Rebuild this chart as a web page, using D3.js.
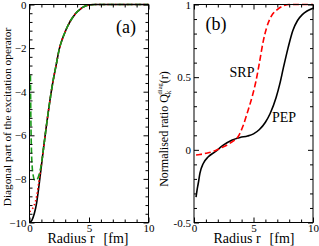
<!DOCTYPE html>
<html><head><meta charset="utf-8">
<script src="https://cdn.jsdelivr.net/npm/d3@7"></script>
<style>body{margin:0;background:#fff}svg{display:block}text{font-family:"Liberation Serif","Times New Roman",serif;fill:#000}</style>
</head><body>
<svg id="c" width="319" height="246"></svg>
<script>
// ---- Panel (a) data ----
const aXTicks = [0, 5, 10];
const aYTicks = [0, -2, -4, -6, -8, -10];
const aBlackR = [0,0.2,0.4,0.6,0.8,1.0,1.2,1.4,1.6,1.8,2.0,2.25,2.5,2.75,3.0,3.25,3.5,3.75,4.0,4.25,4.5,4.75,5.0,5.5,6,7,8,9,10];
const aBlackV = [-10,-9.9,-9.6,-9.1,-8.3,-7.4,-6.5,-5.65,-4.85,-4.1,-3.45,-2.75,-2.05,-1.6,-1.25,-0.95,-0.7,-0.5,-0.34,-0.22,-0.12,-0.06,-0.02,0,0,0,0,0,0];
const aRedR = [0,0.2,0.4,0.6,0.8,1.0,1.2,1.4,1.6,1.8,2.0,2.25,2.5,2.75,3.0,3.25,3.5,3.75,4.0,4.25,4.5,4.75,5.0,5.5,6,7,8,9,10];
const aRedV = [-9.5,-9.4,-9.2,-8.8,-8.1,-7.35,-6.5,-5.65,-4.85,-4.1,-3.45,-2.75,-2.05,-1.6,-1.25,-0.95,-0.7,-0.5,-0.34,-0.22,-0.12,-0.06,-0.02,0,0,0,0,0,0];
const aGreenR = [0.08,0.1,0.13,0.17,0.22,0.3,0.45,0.6,0.75,0.9,1.0,1.1,1.2,1.4,1.6,1.8,2.0,2.25,2.5,2.75,3.0,3.25,3.5,3.75,4.0,4.25,4.5,4.75,5.0,5.5,6,7,8,9,10];
const aGreenV = [-3.25,-4.5,-5.8,-6.8,-7.4,-7.8,-8.05,-8.05,-7.9,-7.6,-7.3,-6.95,-6.5,-5.65,-4.85,-4.1,-3.45,-2.75,-2.05,-1.6,-1.25,-0.95,-0.7,-0.5,-0.34,-0.22,-0.12,-0.06,-0.02,0,0,0,0,0,0];

// ---- Panel (b) data ----
const bXTicks = [0, 5, 10];
const bYTicks = [1, 0.5, 0, -0.5];
const bYTickLabels = ["1", "0.5", "0", "-0.5"];
const pepR = [0.17,0.25,0.36,0.5,0.78,1.2,1.76,2.46,3.17,3.87,4.5,5.0,5.5,6.0,6.4,6.9,7.2,7.5,7.9,8.3,8.7,9.1,9.5,10];
const pepV = [-0.325,-0.28,-0.23,-0.16,-0.094,-0.048,-0.014,0.032,0.066,0.085,0.095,0.11,0.14,0.19,0.25,0.36,0.45,0.56,0.70,0.82,0.89,0.93,0.955,0.975];
const srpR = [0.17,0.5,1.0,1.6,2.2,2.75,3.2,3.7,4.1,4.5,4.9,5.2,5.5,5.8,6.1,6.5,7.0,7.5,8,9,10];
const srpV = [-0.036,-0.032,-0.024,-0.012,0.01,0.032,0.055,0.09,0.16,0.26,0.37,0.47,0.6,0.74,0.84,0.92,0.965,0.99,1.0,1.0,1.0];

const svg = d3.select("#c");

function frame(g, x, y, xMajor, xMinorStep, yMajor, yMinorStep, xDom, yDom, yFmt) {
  const [x0, x1] = x.range(), [y0, y1] = y.range(); // y0 bottom
  const xMinor = d3.range(xDom[0], xDom[1] + 1e-9, xMinorStep).filter(v => !xMajor.some(m => Math.abs(m - v) < 1e-9));
  const yMinor = d3.range(yDom[0], yDom[1] + 1e-9, yMinorStep).filter(v => !yMajor.some(m => Math.abs(m - v) < 1e-9));
  const mk = (axis, tr) => g.append("g").attr("transform", tr).call(axis)
      .call(s => s.select(".domain").remove())
      .call(s => s.selectAll("line").attr("stroke", "#000").attr("stroke-width", 1));
  mk(d3.axisBottom(x).tickValues(xMajor).tickSize(-5).tickPadding(1.5).tickFormat(d3.format("d")), `translate(0,${y0})`)
    .selectAll("text").attr("font-size", 11);
  mk(d3.axisBottom(x).tickValues(xMinor).tickSize(-3).tickFormat(""), `translate(0,${y0})`);
  mk(d3.axisTop(x).tickValues(xMajor).tickSize(-5).tickFormat(""), `translate(0,${y1})`);
  mk(d3.axisTop(x).tickValues(xMinor).tickSize(-3).tickFormat(""), `translate(0,${y1})`);
  mk(d3.axisLeft(y).tickValues(yMajor).tickSize(-5).tickPadding(3).tickFormat(yFmt), `translate(${x0},0)`)
    .selectAll("text").attr("font-size", 11);
  mk(d3.axisLeft(y).tickValues(yMinor).tickSize(-3).tickFormat(""), `translate(${x0},0)`);
  mk(d3.axisRight(y).tickValues(yMajor).tickSize(-5).tickFormat(""), `translate(${x1},0)`);
  mk(d3.axisRight(y).tickValues(yMinor).tickSize(-3).tickFormat(""), `translate(${x1},0)`);
  g.append("rect").attr("x", x0).attr("y", y1).attr("width", x1 - x0).attr("height", y0 - y1)
    .attr("fill", "none").attr("stroke", "#000").attr("stroke-width", 1);
}

function curve(g, x, y, rs, vs, color, dash, w) {
  const line = d3.line().x(d => x(d[0])).y(d => y(d[1])).curve(d3.curveMonotoneX);
  g.append("path").datum(rs.map((r, i) => [r, vs[i]])).attr("d", line)
    .attr("fill", "none").attr("stroke", color).attr("stroke-width", w || 1.6)
    .attr("stroke-dasharray", dash || null);
}

function xTitle(g, cx) {
  const t = g.append("text").attr("x", cx).attr("y", 242.5).attr("text-anchor", "middle").attr("font-size", 14);
  t.append("tspan").text("Radius r");
  t.append("tspan").attr("dx", 9).text("[fm]");
}

// Panel (a)
{
  const g = svg.append("g");
  const x = d3.scaleLinear().domain([0, 10]).range([29.5, 148.5]);
  const y = d3.scaleLinear().domain([-10, 0]).range([222.5, 4.5]);
  curve(g, x, y, aBlackR, aBlackV, "#000");
  curve(g, x, y, aRedR, aRedV, "#ff0000", "1.5,2.5", 1.6);
  curve(g, x, y, aGreenR, aGreenV, "#1a9a1a", "6,3", 1.6);
  frame(g, x, y, aXTicks, 1, aYTicks, 0.4, [0, 10], [-10, 0], d3.format("d"));
  g.append("text").attr("x", 126).attr("y", 33).attr("text-anchor", "middle").attr("font-size", 18).text("(a)");
  xTitle(g, 88);
  g.append("text").attr("transform", "translate(10.5,117) rotate(-90)").attr("text-anchor", "middle")
    .attr("font-size", 11.3).text("Diagonal part of the excitation operator");
}

// Panel (b)
{
  const g = svg.append("g");
  const x = d3.scaleLinear().domain([0, 10]).range([194, 313]);
  const y = d3.scaleLinear().domain([-0.5, 1]).range([222.5, 4.5]);
  curve(g, x, y, pepR, pepV, "#000");
  curve(g, x, y, srpR, srpV, "#ff0000", "6,3", 1.6);
  frame(g, x, y, bXTicks, 1, bYTicks, 0.1, [0, 10], [-0.5, 1], (d, i) => bYTickLabels[i]);
  g.append("text").attr("x", 216).attr("y", 30).attr("text-anchor", "middle").attr("font-size", 18).text("(b)");
  g.append("text").attr("x", 242).attr("y", 77).attr("text-anchor", "middle").attr("font-size", 14).text("SRP");
  g.append("text").attr("x", 284).attr("y", 122).attr("text-anchor", "middle").attr("font-size", 14).text("PEP");
  xTitle(g, 254);
  const t = g.append("text").attr("transform", "translate(168,129) rotate(-90)").attr("text-anchor", "middle")
    .attr("font-size", 12);
  t.append("tspan").text("Normalised ratio Q");
  t.append("tspan").attr("font-size", 7.5).attr("dy", 3).text("k");
  t.append("tspan").attr("font-size", 6.5).attr("dx", -4).attr("dy", -9).text("diag");
  t.append("tspan").attr("dy", 6).text("(r)");
}
</script>
</body></html>
